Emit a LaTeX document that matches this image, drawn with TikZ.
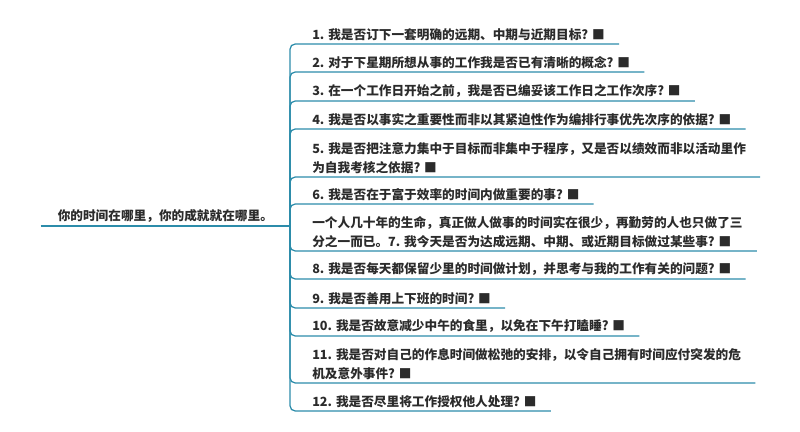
\documentclass[tikz,border=0pt]{standalone}
\usepackage{fontspec}
\setmainfont{Noto Sans CJK SC}
\usepackage{tikz}
\definecolor{zweig}{HTML}{2C8CAA}
\definecolor{schrift}{HTML}{2B2B2B}
\tikzset{
  frage/.style={anchor=south west,align=left,text=schrift,font=\bfseries\fontsize{9}{13.5}\selectfont,inner xsep=0.35cm,inner ysep=0.08cm},
  kernfrage/.style={frage,anchor=south east,inner xsep=0.42cm},
  ast/.style={zweig,line width=0.9pt,rounded corners=0.13cm},
}

\begin{document}
\begin{tikzpicture}[x=0.025cm,y=-0.025cm]
  \useasboundingbox (0,0) rectangle (800,432);
  \node[kernfrage] (kern) at (290,226) {你的时间在哪里，你的成就就在哪里。};
  \draw[ast] (kern.south west) -- (kern.south east);
  \node[frage] (f1) at (298,44) {1. 我是否订下一套明确的远期、中期与近期目标? ■};
  \node[frage] (f2) at (298,72) {2. 对于下星期所想从事的工作我是否已有清晰的概念? ■};
  \node[frage] (f3) at (298,101) {3. 在一个工作日开始之前，我是否已编妥该工作日之工作次序? ■};
  \node[frage] (f4) at (298,129) {4. 我是否以事实之重要性而非以其紧迫性作为编排行事优先次序的依据? ■};
  \node[frage] (f5) at (298,177) {5. 我是否把注意力集中于目标而非集中于程序，又是否以绩效而非以活动里作\\为自我考核之依据? ■};
  \node[frage] (f6) at (298,204) {6. 我是否在于富于效率的时间内做重要的事? ■};
  \node[frage] (f7) at (298,251) {一个人几十年的生命，真正做人做事的时间实在很少，再勤劳的人也只做了三\\分之一而已。7. 我今天是否为达成远期、中期、或近期目标做过某些事? ■};
  \node[frage] (f8) at (298,279) {8. 我是否每天都保留少里的时间做计划，并思考与我的工作有关的问题? ■};
  \node[frage] (f9) at (298,308) {9. 我是否善用上下班的时间? ■};
  \node[frage] (f10) at (298,336) {10. 我是否故意减少中午的食里，以免在下午打瞌睡? ■};
  \node[frage] (f11) at (298,383) {11. 我是否对自己的作息时间做松弛的安排，以令自己拥有时间应付突发的危\\机及意外事件? ■};
  \node[frage] (f12) at (298,411) {12. 我是否尽里将工作授权他人处理? ■};
  \foreach \i in {1,...,12}
    \draw[ast] (kern.south east) |- (f\i.south east);
\end{tikzpicture}
\end{document}
